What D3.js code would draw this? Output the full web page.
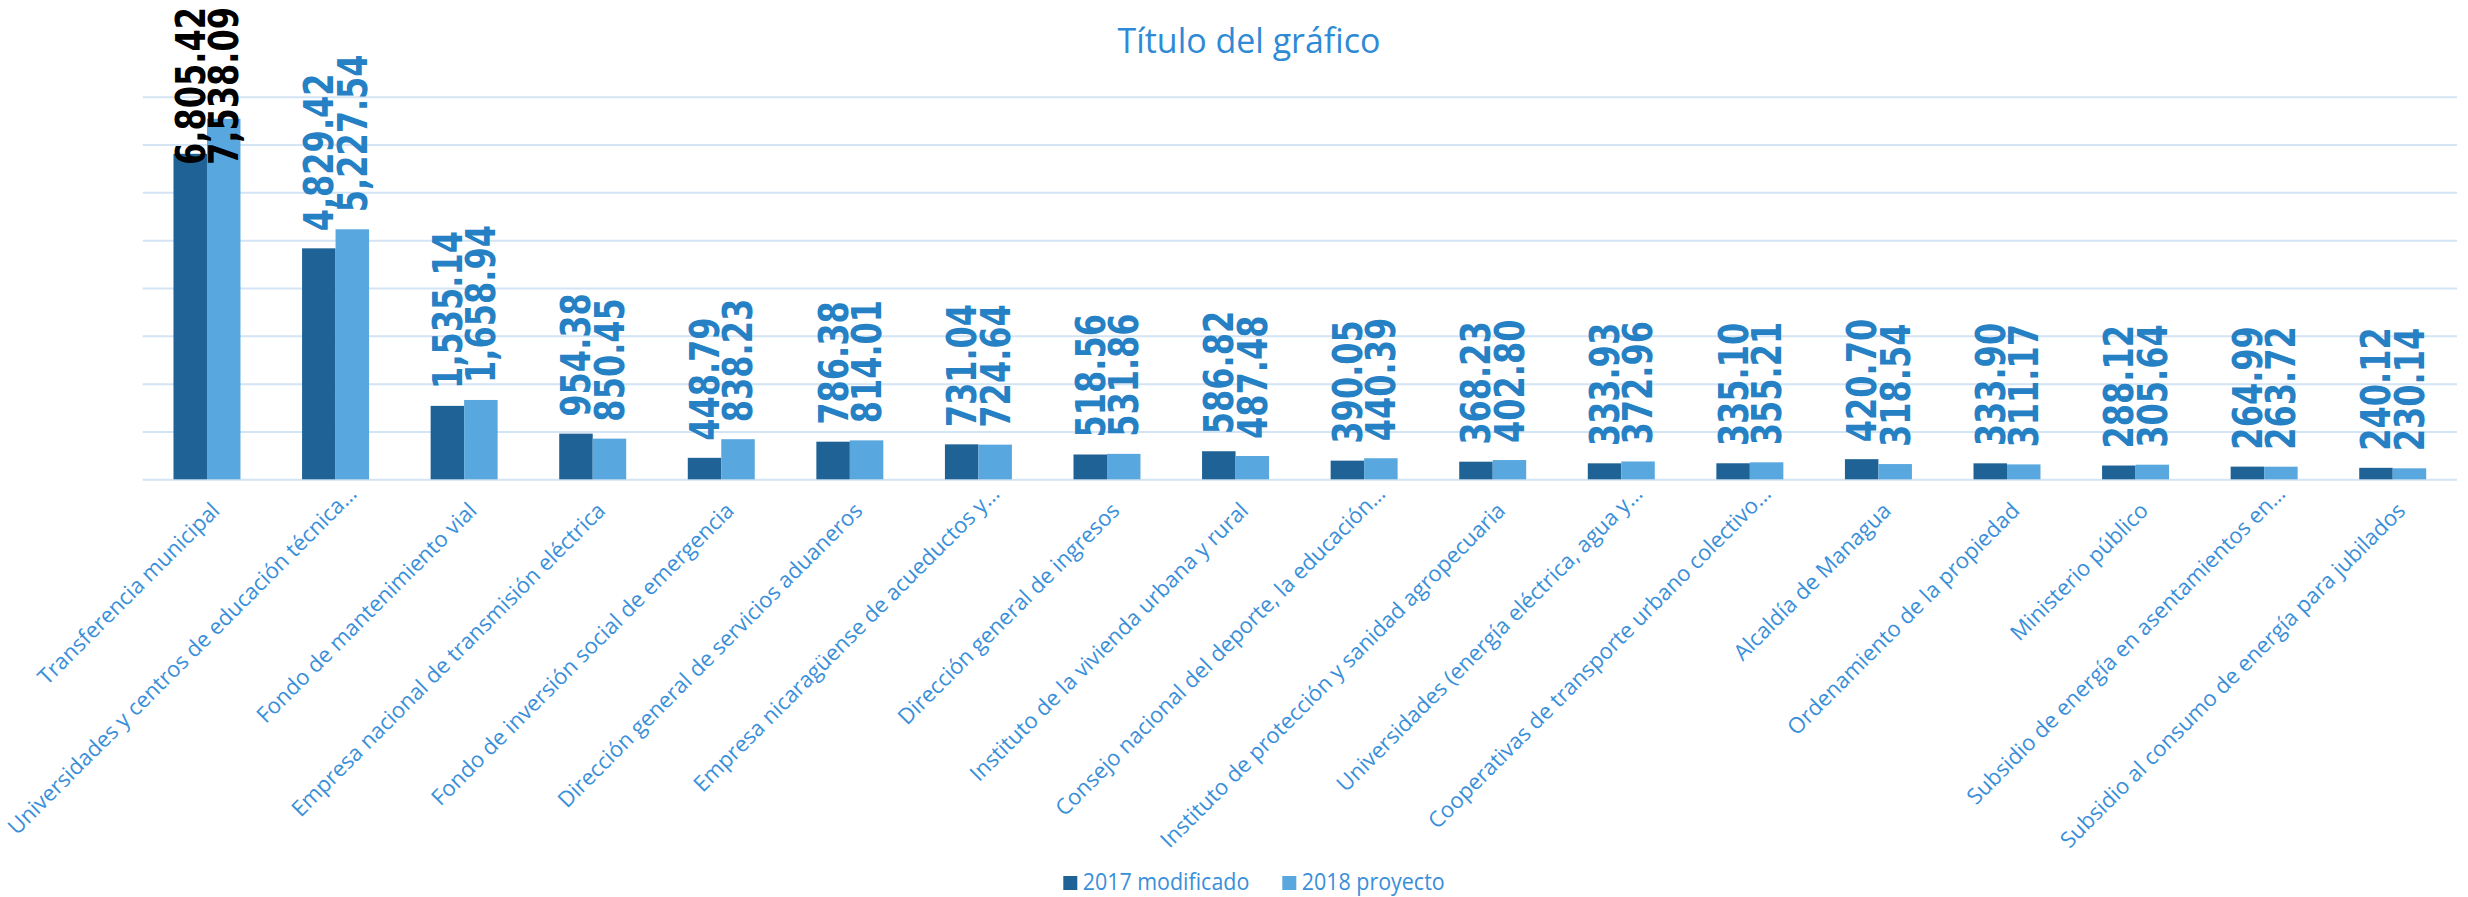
<!DOCTYPE html>
<html>
<head>
<meta charset="utf-8">
<script src="https://cdn.jsdelivr.net/npm/d3@7"></script>
<style>
  body { margin: 0; background: #fff; }
  svg { display: block; }
</style>
</head>
<body>
<svg width="2468" height="897"></svg>
<script>
const categories = [
  "Transferencia municipal",
  "Universidades y centros de educación técnica…",
  "Fondo de mantenimiento vial",
  "Empresa nacional de transmisión eléctrica",
  "Fondo de inversión social de emergencia",
  "Dirección general de servicios aduaneros",
  "Empresa nicaragüense de acueductos y…",
  "Dirección general de ingresos",
  "Instituto de la vivienda urbana y rural",
  "Consejo nacional del deporte, la educación…",
  "Instituto de protección y sanidad agropecuaria",
  "Universidades (energía eléctrica, agua y…",
  "Cooperativas de transporte urbano colectivo…",
  "Alcaldía de Managua",
  "Ordenamiento de la propiedad",
  "Ministerio público",
  "Subsidio de energía en asentamientos en…",
  "Subsidio al consumo de energía para jubilados"
];
const values2017 = [6805.42, 4829.42, 1535.14, 954.38, 448.79, 786.38, 731.04, 518.56, 586.82,
  390.05, 368.23, 333.93, 335.10, 420.70, 333.90, 288.12, 264.99, 240.12];
const values2018 = [7538.09, 5227.54, 1658.94, 850.45, 838.23, 814.01, 724.64, 531.86, 487.48,
  440.39, 402.80, 372.96, 355.21, 318.54, 311.17, 305.64, 263.72, 230.14];
const seriesNames = ["2017 modificado", "2018 proyecto"];
const yTicks = [0, 1000, 2000, 3000, 4000, 5000, 6000, 7000, 8000];
const chartTitle = "Título del gráfico";

const svg = d3.select("svg");
const plotLeft = 142.7, plotRight = 2457, plotTop = 96.7, plotBottom = 479.3;

const data = categories.map((c, i) => ({ cat: c, vals: [values2017[i], values2018[i]] }));

const x0 = d3.scaleBand().domain(categories).range([plotLeft, plotRight])
  .paddingInner(0.479).paddingOuter(0.2395);
const x1 = d3.scaleBand().domain(seriesNames).range([0, x0.bandwidth()]);
const y = d3.scaleLinear().domain([0, 8000]).range([plotBottom, plotTop]);
const color = d3.scaleOrdinal().domain(seriesNames).range(["#1f6396", "#59a7df"]);

// gridlines
svg.append("g")
  .attr("transform", `translate(${plotLeft},0)`)
  .call(d3.axisLeft(y).tickValues(yTicks).tickSize(-(plotRight - plotLeft)).tickFormat(""))
  .call(g => g.select(".domain").remove())
  .call(g => g.selectAll("line").attr("stroke", "#d3e5f5").attr("stroke-width", 2));

// bars
const groups = svg.append("g").selectAll("g")
  .data(data)
  .join("g")
  .attr("transform", d => `translate(${x0(d.cat)},0)`);

groups.selectAll("rect")
  .data(d => d.vals.map((v, j) => ({ key: seriesNames[j], v })))
  .join("rect")
  .attr("x", d => x1(d.key))
  .attr("y", d => y(d.v))
  .attr("width", x1.bandwidth())
  .attr("height", d => y(0) - y(d.v))
  .attr("fill", d => color(d.key));

// value labels (pushed inside and drawn black when they would leave the chart)
const fmt = d3.format(",.2f");
const sx = 0.8;
const labels = svg.append("g");
data.forEach(d => {
  d.vals.forEach((v, j) => {
    const cx = x0(d.cat) + x1(seriesNames[j]) + x1.bandwidth() / 2;
    const ty = y(v) - 17;
    const t = labels.append("text")
      .attr("transform", `translate(${cx},${ty}) rotate(-90) scale(${sx},1)`)
      .attr("dy", "0.36em")
      .attr("text-anchor", "start")
      .attr("font-family", "DejaVu Sans")
      .attr("font-weight", "bold")
      .attr("font-size", 40)
      .attr("fill", "#2680c4")
      .text(fmt(v));
    const len = t.node().getComputedTextLength() * sx;
    if (ty - len < 7) {
      t.attr("transform", `translate(${cx},7) rotate(-90) scale(${sx},1)`)
        .attr("text-anchor", "end")
        .attr("fill", "#000");
    }
  });
});

// category labels
svg.append("g").selectAll("text")
  .data(categories)
  .join("text")
  .attr("transform", c => `translate(${x0(c) + x0.bandwidth() / 2 + 14},512) rotate(-45)`)
  .attr("text-anchor", "end")
  .attr("dx", c => c.endsWith("…") ? 18 : 0)
  .attr("dy", c => c.endsWith("…") ? -6 : 0)
  .attr("font-family", "Open Sans")
  .attr("font-size", 22)
  .attr("fill", "#3a8fd9")
  .text(c => c);

// title
svg.append("text")
  .attr("x", 1249)
  .attr("y", 53)
  .attr("text-anchor", "middle")
  .attr("font-family", "Open Sans")
  .attr("font-size", 35)
  .attr("textLength", 263)
  .attr("lengthAdjust", "spacingAndGlyphs")
  .attr("fill", "#2f8ad6")
  .text(chartTitle);

// legend
const legendX = [1063.3, 1282.3];
const legendW = [166.6, 143];
const legend = svg.append("g").selectAll("g")
  .data(seriesNames)
  .join("g")
  .attr("transform", (s, i) => `translate(${legendX[i]},876)`);
legend.append("rect")
  .attr("width", 14).attr("height", 14)
  .attr("fill", s => color(s));
legend.append("text")
  .attr("x", 19.4)
  .attr("y", 14)
  .attr("font-family", "Open Sans")
  .attr("font-size", 24)
  .attr("textLength", (s, i) => legendW[i])
  .attr("lengthAdjust", "spacingAndGlyphs")
  .attr("fill", "#3a8fd9")
  .text(s => s);
</script>
</body>
</html>
